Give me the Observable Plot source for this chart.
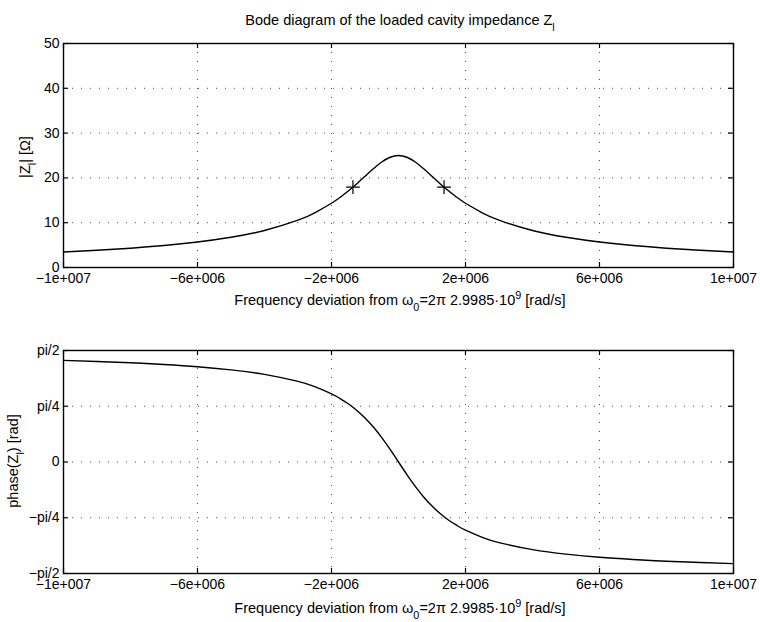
<!DOCTYPE html>
<html>
<head>
<meta charset="utf-8">
<script src="https://cdn.jsdelivr.net/npm/d3@7"></script>
<script src="https://cdn.jsdelivr.net/npm/@observablehq/plot@0.6"></script>
<style>
  body { margin: 0; background: #fff; }
  #wrap { position: relative; width: 760px; height: 622px; background: #fff; }
  #wrap svg { position: absolute; left: 0; }
</style>
</head>
<body>
<div id="wrap"></div>
<script>
// ---- data ----
const freq = [-10e6, -9e6, -8e6, -7e6, -6e6, -5e6, -4e6, -3e6, -2.5e6, -2e6, -1.75e6, -1.5e6, -1.25e6, -1e6, -0.75e6, -0.5e6, -0.25e6, 0,
              0.25e6, 0.5e6, 0.75e6, 1e6, 1.25e6, 1.5e6, 1.75e6, 2e6, 2.5e6, 3e6, 4e6, 5e6, 6e6, 7e6, 8e6, 9e6, 10e6];
const magnitude = [3.47, 3.84, 4.31, 4.90, 5.68, 6.74, 8.26, 10.57, 12.21, 14.34, 15.62, 17.06, 18.65, 20.35, 22.04, 23.54, 24.61, 25.0,
                   24.61, 23.54, 22.04, 20.35, 18.65, 17.06, 15.62, 14.34, 12.21, 10.57, 8.26, 6.74, 5.68, 4.90, 4.31, 3.84, 3.47];
const phase = [1.432, 1.416, 1.398, 1.373, 1.342, 1.298, 1.234, 1.135, 1.061, 0.960, 0.896, 0.820, 0.729, 0.620, 0.492, 0.343, 0.177, 0,
               -0.177, -0.343, -0.492, -0.620, -0.729, -0.820, -0.896, -0.960, -1.061, -1.135, -1.234, -1.298, -1.342, -1.373, -1.398, -1.416, -1.432];
const halfPowerFreq = [-1.36e6, 1.36e6];
const halfPowerMag = [17.95, 17.95];

const xTicks = [-1e7, -6e6, -2e6, 2e6, 6e6, 1e7];
const xTickLabels = ["\u22121e+007", "\u22126e+006", "\u22122e+006", "2e+006", "6e+006", "1e+007"];
const magTicks = [0, 10, 20, 30, 40, 50];
const magTickLabels = ["0", "10", "20", "30", "40", "50"];
const phaseTicks = [-1.5708, -0.7854, 0, 0.7854, 1.5708];
const phaseTickLabels = ["\u2212pi/2", "\u2212pi/4", "0", "pi/4", "pi/2"];

const magRows = freq.map((f, i) => ({f, v: magnitude[i]}));
const phaseRows = freq.map((f, i) => ({f, v: phase[i]}));
const markRows = halfPowerFreq.map((f, i) => ({f, v: halfPowerMag[i]}));

const FONT = "'Liberation Sans', Arial, Helvetica, sans-serif";
const wrap = document.getElementById("wrap");

function panel({rows, yDomain, yTicks, yLabels, height, marginTop, marginBottom, extra, tickLen}) {
  const innerX = xTicks.slice(1, -1);
  const innerY = yTicks.slice(1, -1);
  const [y0, y1] = yDomain;
  const xt = 2e7 * 5 / 670; // inward tick length (≈5px) in data units
  return Plot.plot({
    width: 760, height, marginLeft: 63, marginRight: 27, marginTop, marginBottom,
    style: {fontFamily: FONT, fontSize: "14px", color: "#000", background: "transparent", overflow: "visible"},
    x: {domain: [-1e7, 1e7], ticks: xTicks, tickFormat: d => xTickLabels[xTicks.indexOf(d)], tickSize: 0, tickPadding: 6, label: null},
    y: {domain: yDomain, ticks: yTicks, tickFormat: d => yLabels[yTicks.indexOf(d)], tickSize: 0, tickPadding: 4, label: null},
    marks: [
      Plot.ruleX(innerX, {x: d => d, stroke: "#000", strokeWidth: 1, strokeDasharray: "1,8", strokeOpacity: 0.7}),
      Plot.ruleY(innerY, {y: d => d, stroke: "#000", strokeWidth: 1, strokeDasharray: "1,8", strokeOpacity: 0.7}),
      Plot.ruleX(xTicks, {x: d => d, y1: y0, y2: y0 + tickLen, stroke: "#000", strokeWidth: 1.2}),
      Plot.ruleX(xTicks, {x: d => d, y1: y1, y2: y1 - tickLen, stroke: "#000", strokeWidth: 1.2}),
      Plot.ruleY(yTicks, {y: d => d, x1: -1e7, x2: -1e7 + xt, stroke: "#000", strokeWidth: 1.2}),
      Plot.ruleY(yTicks, {y: d => d, x1: 1e7, x2: 1e7 - xt, stroke: "#000", strokeWidth: 1.2}),
      Plot.frame({stroke: "#000", strokeWidth: 1.4}),
      Plot.line(rows, {x: "f", y: "v", curve: "natural", stroke: "#000", strokeWidth: 1.4}),
      ...(extra || [])
    ]
  });
}

function addText(svg, x, y, parts, opts = {}) {
  const size = opts.size || 14.5;
  const t = d3.select(svg).append("text")
    .attr("x", x).attr("y", y)
    .attr("text-anchor", "middle")
    .attr("font-family", FONT)
    .attr("font-size", size)
    .attr("fill", "#000");
  if (opts.rotate) t.attr("transform", `rotate(-90 ${x} ${y})`);
  for (const p of parts) {
    const s = t.append("tspan").text(p.t);
    if (p.sub) s.attr("baseline-shift", "sub").attr("font-size", size * 0.75);
    if (p.sup) s.attr("baseline-shift", "super").attr("font-size", size * 0.75);
  }
  return t;
}

const xLabelParts = [
  {t: "Frequency deviation from \u03c9"}, {t: "0", sub: true},
  {t: "=2\u03c0 2.9985\u00b710"}, {t: "9", sup: true}, {t: " [rad/s]"}
];

// ---- top panel: magnitude ----
const topPlot = panel({
  rows: magRows, yDomain: [0, 50], yTicks: magTicks, yLabels: magTickLabels,
  height: 312, marginTop: 43, marginBottom: 45, tickLen: 50 * 5 / 224,
  extra: [Plot.dot(markRows, {x: "f", y: "v", symbol: "plus", r: 4.5, stroke: "#000", strokeWidth: 1.2})]
});
topPlot.style.top = "0px";
wrap.appendChild(topPlot);
addText(topPlot, 400, 25, [{t: "Bode diagram of the loaded cavity impedance Z"}, {t: "l", sub: true}], {size: 14.5});
addText(topPlot, 400, 305, xLabelParts);
addText(topPlot, 30, 157, [{t: "|Z"}, {t: "l", sub: true}, {t: "| [\u03a9]"}], {rotate: true});

// ---- bottom panel: phase ----
const botPlot = panel({
  rows: phaseRows, yDomain: [-1.5708, 1.5708], yTicks: phaseTicks, yLabels: phaseTickLabels,
  height: 310, marginTop: 38, marginBottom: 49, tickLen: 3.1416 * 5 / 223
});
botPlot.style.top = "312px";
wrap.appendChild(botPlot);
addText(botPlot, 400, 301, xLabelParts);
addText(botPlot, 18, 149, [{t: "phase(Z"}, {t: "l", sub: true}, {t: ") [rad]"}], {rotate: true});
</script>
</body>
</html>
